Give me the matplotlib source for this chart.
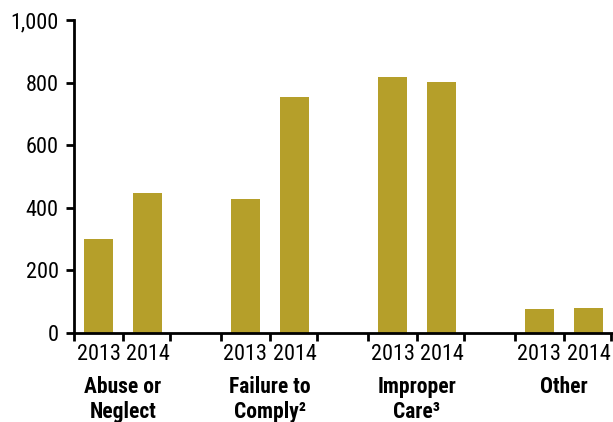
import numpy as np
import matplotlib
matplotlib.use("Agg")
import matplotlib.pyplot as plt
from matplotlib import font_manager
from matplotlib.transforms import blended_transform_factory

# data
categories = ["Abuse or\nNeglect", "Failure to\nComply\u00b2", "Improper\nCare\u00b3", "Other"]
years = ["2013", "2014"]
values_2013 = [300, 428, 818, 77]
values_2014 = [447, 754, 802, 80]
y_ticks = [0, 200, 400, 600, 800, 1000]
y_tick_labels = ["0", "200", "400", "600", "800", "1,000"]

# pick a narrow face if there is one
names = {f.name for f in font_manager.fontManager.ttflist}
family = 'DejaVu Sans'
for cand in ['Liberation Sans Narrow', 'Roboto Condensed', 'Open Sans Condensed']:
    if cand in names:
        family = cand
        break
plt.rcParams['font.family'] = [family, 'DejaVu Sans']
plt.rcParams['font.stretch'] = 'condensed'

bar_color = '#B59F2A'
group_step = 3.0
bar_width = 0.61

fig = plt.figure(figsize=(6.13, 4.22), dpi=100)
ax = fig.add_axes([74 / 613, 1 - 333 / 422, 539 / 613, 313 / 422])

starts = np.arange(len(categories)) * group_step
x13 = starts + 0.5
x14 = starts + 1.5
ax.bar(x13, values_2013, width=bar_width, color=bar_color)
ax.bar(x14, values_2014, width=bar_width, color=bar_color)

ax.set_xlim(0, starts[-1] + 2.0)
ax.set_ylim(0, 1000)

# year labels at bar centres, tick marks at group boundaries
centers = np.sort(np.concatenate([x13, x14]))
ax.set_xticks(centers)
ax.set_xticklabels(years * len(categories), fontsize=16)
ax.tick_params(axis='x', which='major', length=0, pad=8)
bounds = np.sort(np.concatenate([starts, starts + 1, starts + 1.96]))
ax.set_xticks(bounds, minor=True)
ax.tick_params(axis='x', which='minor', length=6, width=2, direction='out')

ax.set_yticks(y_ticks)
ax.set_yticklabels(y_tick_labels, fontsize=16)
ax.tick_params(axis='y', length=6, width=2, direction='out', pad=5)

for side in ['top', 'right']:
    ax.spines[side].set_visible(False)
for side in ['left', 'bottom']:
    ax.spines[side].set_linewidth(2)

# category names under the year labels
trans = blended_transform_factory(ax.transData, fig.transFigure)
for s, name in zip(starts, categories):
    ax.text(s + 1.0, 1 - 376 / 422, name, transform=trans, ha='center', va='top',
            fontsize=15.5, fontweight='bold', linespacing=1.15)

fig.savefig("out.png", dpi=100)
